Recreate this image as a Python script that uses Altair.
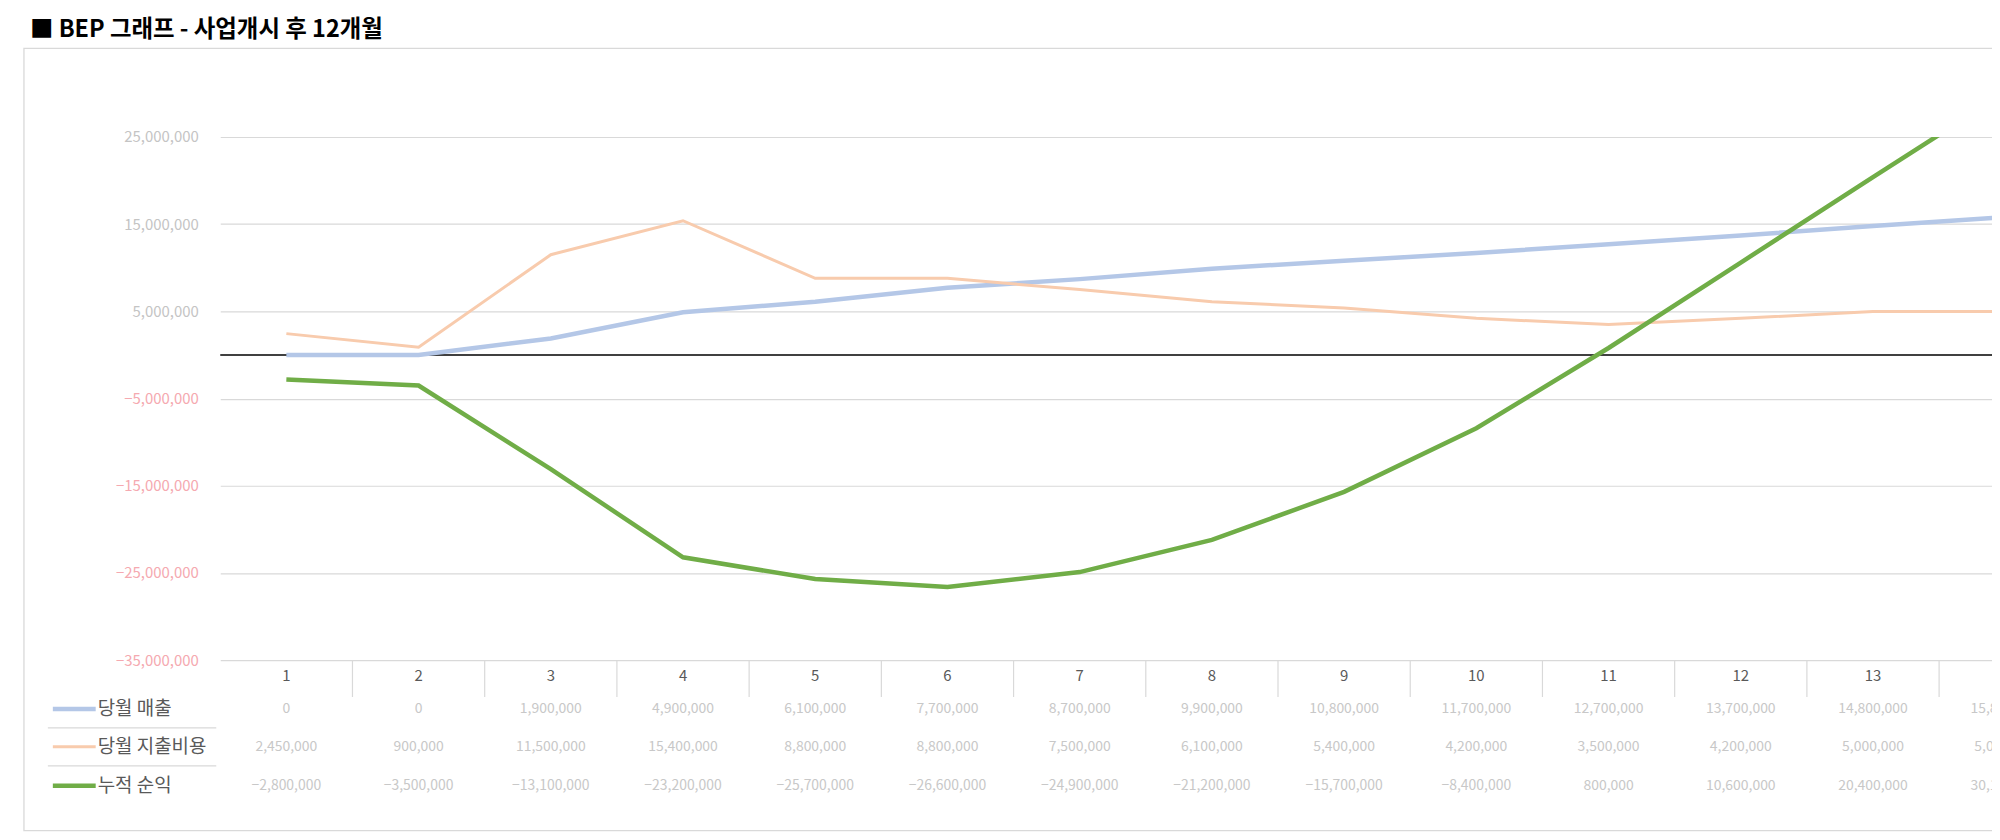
import altair as alt
import pandas as pd

# ---- data (amounts in won) ----
months = [1, 2, 3, 4, 5, 6, 7, 8, 9, 10, 11, 12, 13, 14]
series_names = ["당월 매출", "당월 지출비용", "누적 순익"]
series_colors = ["#b4c7e7", "#f8cbad", "#70ad47"]
revenue = [0, 0, 1900000, 4900000, 6100000, 7700000, 8700000, 9900000,
           10800000, 11700000, 12700000, 13700000, 14800000, 15800000]
expense = [2450000, 900000, 11500000, 15400000, 8800000, 8800000, 7500000,
           6100000, 5400000, 4200000, 3500000, 4200000, 5000000, 5000000]
profit = [-2800000, -3500000, -13100000, -23200000, -25700000, -26600000,
          -24900000, -21200000, -15700000, -8400000, 800000, 10600000,
          20400000, 30100000]
y_ticks = [25000000, 15000000, 5000000, -5000000, -15000000, -25000000, -35000000]
title_text = "■ BEP 그래프 - 사업개시 후 12개월"

FONT = "Noto Sans CJK KR"

rows = []
for name, vals in zip(series_names, [revenue, expense, profit]):
    for m, v in zip(months, vals):
        rows.append({"month": m, "series": name, "value": v})
df = pd.DataFrame(rows)
mdf = pd.DataFrame({"month": months})
one = pd.DataFrame({"k": [0]})

W, H = 1778, 525

x_scale = alt.Scale(domain=[0.5, 13.9], nice=False, zero=False)
x_enc = alt.X("month:Q", scale=x_scale, axis=None)
y_scale = alt.Scale(domain=[-35000000, 25000000], nice=False, zero=False)

color_enc = alt.Color("series:N", scale=alt.Scale(domain=series_names, range=series_colors), legend=None)

# frame
frame = alt.Chart(one).mark_rect(fillOpacity=0, stroke="#d9d9d9", strokeWidth=1.3, clip=False).encode(
    x=alt.value(-197), x2=alt.value(1850), y=alt.value(-89), y2=alt.value(696)
)

title = alt.Chart(pd.DataFrame({"t": [title_text]})).mark_text(
    align="left", baseline="middle", fontSize=23.5, fontWeight="bold", font=FONT, color="#000000"
).encode(x=alt.value(-191), y=alt.value(-107), text="t:N")

# axis (gridlines + labels)
axis_layer = alt.Chart(df).mark_line(opacity=0).encode(
    x=x_enc,
    y=alt.Y("value:Q", scale=y_scale, title=None,
            axis=alt.Axis(values=y_ticks, labelExpr="format(datum.value, ',')",
                          domain=False, ticks=False,
                          labelPadding=22, labelFontSize=15, labelFont=FONT,
                          labelColor={"condition": {"test": "datum.value < 0", "value": "#f5a9b0"},
                                      "value": "#c4c4c4"},
                          grid=True, gridColor="#d9d9d9", gridWidth=1.2)),
)

zero_rule = alt.Chart(one).transform_calculate(z="0").mark_rule(color="#000000", strokeWidth=1.6).encode(
    y=alt.Y("z:Q", scale=y_scale)
)

widths = [4.5, 3, 4.5]
line_layers = []
for name, w in zip(series_names, widths):
    line_layers.append(
        alt.Chart(df).transform_filter(alt.datum.series == name).mark_line(strokeWidth=w, clip=True).encode(
            x=x_enc, y=alt.Y("value:Q", scale=y_scale), color=color_enc
        )
    )

# data table: header row
header = alt.Chart(mdf).mark_text(fontSize=15, font=FONT, color="#595959", baseline="middle").encode(
    x=x_enc, y=alt.value(541), text="month:N"
)
seps = alt.Chart(mdf).transform_calculate(b="datum.month + 0.5").transform_filter("datum.b < 14").mark_rule(
    color="#d9d9d9", strokeWidth=1.2
).encode(x=alt.X("b:Q", scale=x_scale, axis=None), y=alt.value(525), y2=alt.value(562))

row_ys = [574, 612, 651]
value_rows = []
legend_layers = []
for name, col, w, ry in zip(series_names, series_colors, widths, row_ys):
    sub = alt.Chart(df).transform_filter(alt.datum.series == name)
    value_rows.append(
        sub.mark_text(fontSize=14, font=FONT, color="#c8c8c8", baseline="middle").encode(
            x=x_enc, y=alt.value(ry), text=alt.Text("value:Q", format=",")
        )
    )
    lab = alt.Chart(pd.DataFrame({"s": [name]}))
    legend_layers.append(
        lab.mark_rule(color=col, strokeWidth=w).encode(
            x=alt.value(-168), x2=alt.value(-125), y=alt.value(ry)
        )
    )
    legend_layers.append(
        lab.mark_text(align="left", baseline="middle", fontSize=19, font=FONT, color="#595959").encode(
            x=alt.value(-123), y=alt.value(ry), text="s:N"
        )
    )

legend_seps = [
    alt.Chart(one).mark_rule(color="#d9d9d9", strokeWidth=1.2).encode(
        x=alt.value(-173), x2=alt.value(-4), y=alt.value(sy)
    )
    for sy in (593, 631)
]

chart = alt.layer(
    frame, title, axis_layer, zero_rule, *line_layers, header, seps, *value_rows,
    *legend_layers, *legend_seps
).properties(
    width=W, height=H,
    padding={"left": 213, "top": 128, "right": 0, "bottom": 172},
    autosize=alt.AutoSizeParams(type="none"),
    background="white",
).configure_view(stroke=None)

chart.save("out.html", embed_options={"renderer": "svg", "actions": False})
